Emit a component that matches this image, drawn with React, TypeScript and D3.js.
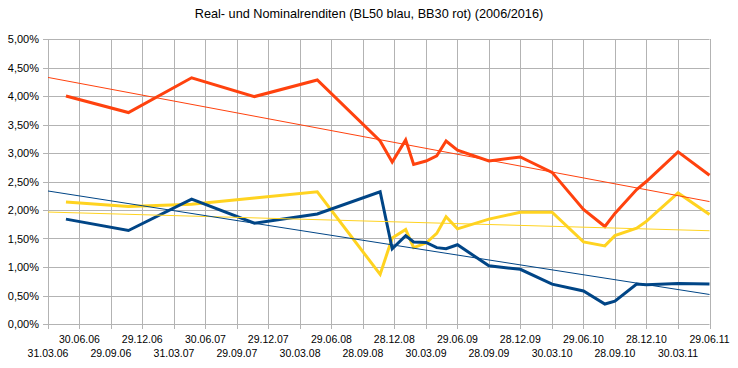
import React, { useRef, useEffect } from "react";
import * as d3 from "d3";

// dates of the observations (dd.mm.yy)
const dates = [
  "22.05.06", "19.11.06", "21.05.07", "19.11.07", "19.05.08",
  "17.11.08", "22.12.08", "30.01.09", "22.02.09", "30.03.09",
  "30.04.09", "27.05.09", "29.06.09", "28.09.09", "28.12.09",
  "30.03.10", "29.06.10", "30.08.10", "28.09.10", "30.11.10",
  "28.12.10", "30.03.11", "29.06.11",
];

// BB30 nominal yield (red)
const nominal = [
  4.0, 3.71, 4.32, 3.99, 4.28, 3.21, 2.84, 3.23, 2.8, 2.86, 2.95, 3.21,
  3.05, 2.86, 2.93, 2.66, 2.01, 1.71, 1.94, 2.36, 2.5, 3.02, 2.61,
];

// BL50 real yield (blue)
const real = [
  1.84, 1.64, 2.19, 1.77, 1.93, 2.32, 1.32, 1.55, 1.44, 1.43, 1.34, 1.32,
  1.39, 1.02, 0.96, 0.7, 0.58, 0.35, 0.4, 0.7, 0.69, 0.71, 0.7,
];

// difference (yellow)
const spread = [
  2.14, 2.06, 2.1, 2.21, 2.32, 0.87, 1.51, 1.66, 1.34, 1.42, 1.59, 1.88,
  1.67, 1.84, 1.96, 1.96, 1.44, 1.37, 1.55, 1.68, 1.8, 2.3, 1.92,
];

const xTickLabels = [
  "31.03.06", "30.06.06", "29.09.06", "29.12.06", "31.03.07", "30.06.07",
  "29.09.07", "29.12.07", "30.03.08", "29.06.08", "28.09.08", "28.12.08",
  "30.03.09", "29.06.09", "28.09.09", "28.12.09", "30.03.10", "29.06.10",
  "28.09.10", "28.12.10", "30.03.11", "29.06.11",
];

const yTicks = [0, 0.5, 1, 1.5, 2, 2.5, 3, 3.5, 4, 4.5, 5];

const title = "Real- und Nominalrenditen (BL50 blau, BB30 rot) (2006/2016)";

export default function App() {
  const ref = useRef<SVGSVGElement>(null);

  useEffect(() => {
    const width = 738;
    const height = 368;
    const left = 48;
    const right = 709.5;
    const top = 39;
    const bottom = 324;
    const font = "Liberation Sans, Arial, sans-serif";
    const grid = "#b3b3b3";

    const parse = d3.timeParse("%d.%m.%y");
    const tickDates = xTickLabels.map((s) => parse(s) as Date);
    const pointDates = dates.map((s) => parse(s) as Date);

    const svg = d3.select(ref.current);
    svg.selectAll("*").remove();
    svg.attr("width", width).attr("height", height);

    svg.append("rect").attr("width", width).attr("height", height).attr("fill", "#fff");

    const x = d3
      .scaleTime()
      .domain([tickDates[0], tickDates[tickDates.length - 1]])
      .range([left, right]);
    const y = d3.scaleLinear().domain([0, 5]).range([bottom, top]);

    svg
      .append("text")
      .attr("x", width / 2)
      .attr("y", 18)
      .attr("text-anchor", "middle")
      .attr("font-family", font)
      .attr("font-size", 12.7)
      .attr("fill", "#000")
      .text(title);

    // horizontal grid + y ticks
    const yg = svg.append("g");
    yg.selectAll("line")
      .data(yTicks)
      .enter()
      .append("line")
      .attr("x1", left - 5)
      .attr("x2", right)
      .attr("y1", (d) => Math.round(y(d)) + 0.5)
      .attr("y2", (d) => Math.round(y(d)) + 0.5)
      .attr("stroke", grid);
    yg.selectAll("text")
      .data(yTicks)
      .enter()
      .append("text")
      .attr("x", left - 9)
      .attr("y", (d) => y(d) + 4)
      .attr("text-anchor", "end")
      .attr("font-family", font)
      .attr("font-size", 11)
      .attr("fill", "#000")
      .text((d) => d.toFixed(2).replace(".", ",") + "%");

    // vertical grid + x ticks
    const xg = svg.append("g");
    xg.selectAll("line")
      .data(tickDates)
      .enter()
      .append("line")
      .attr("x1", (d) => Math.round(x(d)) + 0.5)
      .attr("x2", (d) => Math.round(x(d)) + 0.5)
      .attr("y1", top)
      .attr("y2", bottom + 5)
      .attr("stroke", grid);
    xg.selectAll("text")
      .data(tickDates)
      .enter()
      .append("text")
      .attr("x", (d) => x(d))
      .attr("y", (d, i) => (i % 2 === 1 ? 343 : 357))
      .attr("text-anchor", "middle")
      .attr("font-family", font)
      .attr("font-size", 10.5)
      .attr("fill", "#000")
      .text((d, i) => xTickLabels[i]);

    const series = [
      { values: spread, color: "#ffd320" },
      { values: real, color: "#004586" },
      { values: nominal, color: "#ff420e" },
    ];

    const line = d3
      .line<number>()
      .x((d, i) => x(pointDates[i]))
      .y((d) => y(d));

    series.forEach((s) => {
      svg
        .append("path")
        .datum(s.values)
        .attr("d", line)
        .attr("fill", "none")
        .attr("stroke", s.color)
        .attr("stroke-width", 3)
        .attr("stroke-linejoin", "miter")
        .attr("stroke-miterlimit", 4);
    });

    // linear trend lines over the whole axis
    series.forEach((s) => {
      const xs = pointDates.map((d) => +d);
      const mx = d3.mean(xs) as number;
      const my = d3.mean(s.values) as number;
      const sxy = d3.sum(xs, (v, i) => (v - mx) * (s.values[i] - my));
      const sxx = d3.sum(xs, (v) => (v - mx) * (v - mx));
      const slope = sxy / sxx;
      const f = (t: Date) => my + slope * (+t - mx);
      const [d0, d1] = x.domain();
      svg
        .append("line")
        .attr("x1", x(d0))
        .attr("x2", x(d1))
        .attr("y1", y(f(d0)))
        .attr("y2", y(f(d1)))
        .attr("stroke", s.color)
        .attr("stroke-width", 1);
    });
  }, []);

  return (
    <svg
      ref={ref}
      style={{ position: "absolute", left: 0, top: 0, display: "block" }}
    ></svg>
  );
}
